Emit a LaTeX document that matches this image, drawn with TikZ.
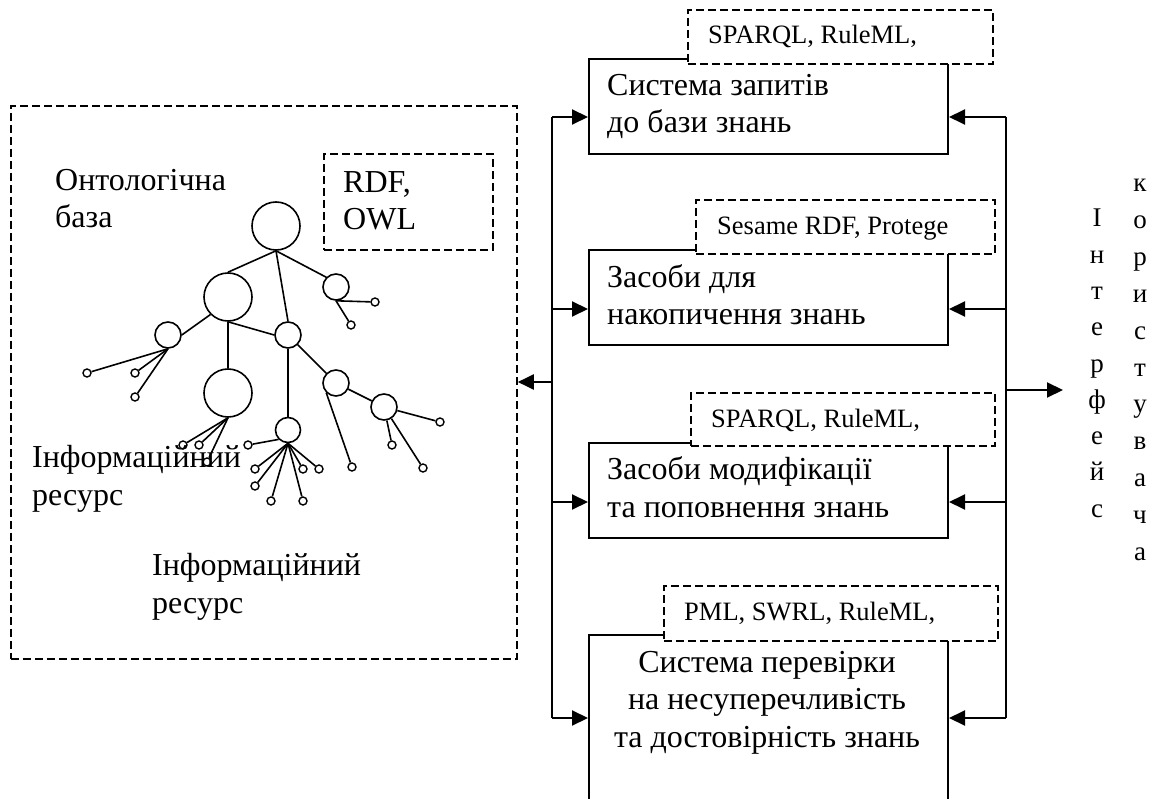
\documentclass[tikz,border=0pt]{standalone}
\usepackage{fontspec}
\setmainfont{Liberation Serif}
\usetikzlibrary{arrows.meta}

\tikzset{
  solidbox/.style={draw, line width=2pt, inner sep=0pt, anchor=north west},
  dashbox/.style={draw, dash pattern=on 8pt off 4pt, line width=1.8pt, fill=white, inner sep=0pt, anchor=north west},
  vertex/.style={draw, circle, line width=1.6pt, inner sep=0pt},
  leaf/.style={draw, circle, line width=1.4pt, inner sep=0pt, minimum size=8pt},
  edge/.style={line width=1.6pt},
  txt/.style={inner sep=0pt, anchor=base west, align=left, font=\fontsize{32}{37.5}\selectfont},
  tag/.style={inner sep=0pt, anchor=base west, font=\fontsize{26.5}{30}\selectfont},
  letter/.style={inner sep=0pt, anchor=base, font=\fontsize{27}{30}\selectfont},
  arr/.style={line width=2pt, -{Triangle[length=16pt,width=15pt]}},
}

\begin{document}
\begin{tikzpicture}[x=1pt,y=-1pt]
  \useasboundingbox (0,0) rectangle (1161,799);
  \clip (0,0) rectangle (1161,799);

  % ontology base
  \node[dashbox, fill=none, minimum width=506pt, minimum height=553pt] (ontbox) at (10,105) {};
  \node[dashbox, minimum width=169pt, minimum height=96pt] (rdfbox) at (323,153) {};
  \node[txt] (rdf) at (343,230) {RDF,\\OWL};
  \node[txt] (ont) at (55,228) {Онтологічна\\база};
  \node[txt] (info1) at (32,505) {Інформаційний\\ресурс};
  \node[txt] (info2) at (152,613) {Інформаційний\\ресурс};

  % tree
  \node[vertex, minimum size=48pt] (root) at (276,226) {};
  \node[vertex, minimum size=48pt] (lbig) at (228,297) {};
  \node[vertex, minimum size=48pt] (lbig2) at (228,393) {};
  \node[vertex, minimum size=26pt] (trs) at (336,287) {};
  \node[vertex, minimum size=26pt] (mid) at (288,335) {};
  \node[vertex, minimum size=26pt] (lsm) at (168,335) {};
  \node[vertex, minimum size=26pt] (rc) at (336,383) {};
  \node[vertex, minimum size=26pt] (rrc) at (384,407) {};
  \node[vertex, minimum size=25pt] (lmid) at (288,430) {};
  \draw[edge] (root.south) -- (lbig.north);
  \draw[edge] (root.south) -- (mid.north);
  \draw[edge] (root.south) -- (trs.north west);
  \draw[edge] (lbig.south west) -- (lsm.east);
  \draw[edge] (lbig.south) -- (mid.west);
  \draw[edge] (lbig.south) -- (lbig2.north);
  \draw[edge] (mid.south) -- (lmid.north);
  \draw[edge] (mid.south east) -- (rc.north west);
  \draw[edge] (rc) -- (rrc);
  \foreach \n/\x/\y/\from in {la1/87/373/lsm.south, la2/135/373/lsm.south, la3/135/397/lsm.south,
      lb1/375/302/trs.south, lb2/351/325/trs.south,
      lc1/183/445/lbig2.south, lc2/199/445/lbig2.south, lc3/207/462/lbig2.south,
      ld1/248/445/lmid.south west, ld2/255/469/lmid.south, ld3/255/486/lmid.south,
      ld4/271/501/lmid.south, ld5/303/501/lmid.south, ld6/303/469/lmid.south,
      ld7/319/469/lmid.south,
      le1/352/467/rc.south west,
      lf1/440/422/rrc, lf2/392/445/rrc, lf3/423/468/rrc}
  {
    \node[leaf] (\n) at (\x,\y) {};
    \draw[edge] (\from) -- (\n);
  }

  % subsystems
  \node[solidbox, minimum width=359pt, minimum height=95pt] (box1) at (588,58) {};
  \node[solidbox, minimum width=359pt, minimum height=95pt] (box2) at (588,249) {};
  \node[solidbox, minimum width=359pt, minimum height=95pt] (box3) at (588,442) {};
  \node[solidbox, minimum width=359pt, minimum height=190pt] (box4) at (588,634) {};
  \node[dashbox, minimum width=305pt, minimum height=54pt] (tag1) at (687,9) {};
  \node[dashbox, minimum width=299pt, minimum height=54pt] (tag2) at (695,199) {};
  \node[dashbox, minimum width=304pt, minimum height=53pt] (tag3) at (690,392) {};
  \node[dashbox, minimum width=334pt, minimum height=55pt] (tag4) at (663,585) {};
  \node[tag] (s1) at (708,44) {SPARQL, RuleML,};
  \node[tag] (s2) at (717,235) {Sesame RDF, Protege};
  \node[tag] (s3) at (711,427) {SPARQL, RuleML,};
  \node[tag] (s4) at (684,620) {PML, SWRL, RuleML,};
  \node[txt] (t1) at (607,133) {Система запитів\\до бази знань};
  \node[txt] (t2) at (607,325) {Засоби для\\накопичення знань};
  \node[txt] (t3) at (607,517) {Засоби модифікації\\та поповнення знань};
  \node[txt, anchor=base, align=center] (t4) at (767,747) {Система перевірки\\на несуперечливість\\та достовірність знань};

  % buses
  \coordinate (l1) at (552,117);
  \coordinate (l2) at (552,309);
  \coordinate (l3) at (552,502);
  \coordinate (l4) at (552,718);
  \coordinate (lout) at (552,382);
  \coordinate (r1) at (1006,117);
  \coordinate (r2) at (1006,309);
  \coordinate (r3) at (1006,502);
  \coordinate (r4) at (1006,718);
  \coordinate (rout) at (1006,390);
  \coordinate (user) at (1063,390);
  \draw[line width=2pt] (l1) -- (l4);
  \draw[line width=2pt] (r1) -- (r4);
  \draw[arr] (l1) -- (l1 -| box1.west);
  \draw[arr] (l2) -- (l2 -| box2.west);
  \draw[arr] (l3) -- (l3 -| box3.west);
  \draw[arr] (l4) -- (l4 -| box4.west);
  \draw[arr] (r1) -- (r1 -| box1.east);
  \draw[arr] (r2) -- (r2 -| box2.east);
  \draw[arr] (r3) -- (r3 -| box3.east);
  \draw[arr] (r4) -- (r4 -| box4.east);
  \draw[arr] (lout) -- (lout -| ontbox.east);
  \draw[arr] (rout) -- (user);

  % user interface
  \foreach \ch [count=\i] in {І,н,т,е,р,ф,е,й,с}
    \node[letter] (ifc\i) at (1097,{227+36.25*(\i-1)}) {\ch};
  \foreach \ch [count=\i] in {к,о,р,и,с,т,у,в,а,ч,а}
    \node[letter] (usr\i) at (1140,{192+36.8*(\i-1)}) {\ch};
\end{tikzpicture}
\end{document}
